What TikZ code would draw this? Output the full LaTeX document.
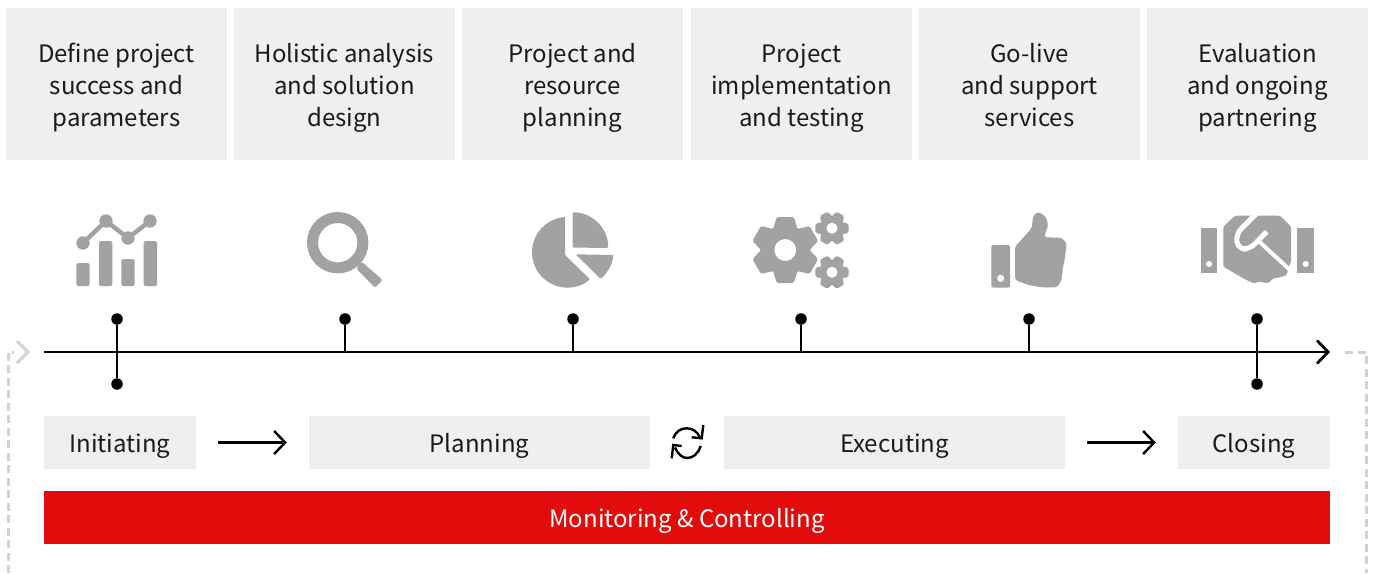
\documentclass[tikz,border=0pt]{standalone}
\usepackage{fontspec}
\setmainfont{Noto Sans CJK SC}
\usetikzlibrary{arrows.meta}
\definecolor{boxgray}{HTML}{EFEFEF}
\definecolor{icongray}{HTML}{A2A2A2}
\definecolor{dashgray}{HTML}{D2D2D2}
\definecolor{barred}{HTML}{E20C0C}
\definecolor{inkblack}{HTML}{1A1A1A}
\tikzset{
  toptext/.style={fill=boxgray, text=inkblack, inner sep=0pt, minimum width=221pt, minimum height=152pt, align=center, text height=90pt, text depth=6pt, font=\fontsize{24}{32}\selectfont},
  phase/.style={fill=boxgray, text=inkblack, inner sep=0pt, minimum height=53pt, text height=26pt, text depth=6.5pt, font=\fontsize{24}{32}\selectfont},
  dot/.style={circle, fill=black, inner sep=0pt, minimum size=11.5pt},
  stem/.style={black, line width=2.8pt},
  chevron/.style={-{Straight Barb[length=11pt,width=23pt]}},
  flow/.style={black, line width=2.4pt, chevron, shorten <=22pt, shorten >=22pt},
  dashline/.style={dashgray, line width=3pt, dash pattern=on 8pt off 4.5pt},
  icon/.style={fill=icongray, draw=none}
}
\newcommand{\gearicon}[4]{
  \begin{scope}[shift={(#1,#2)}, scale=#3, rotate=#4]
    \fill [icongray] (0,0) circle (0.76);
    \foreach \a in {0,60,...,300} {
      \fill [icongray, rounded corners=1.5pt, rotate=\a] (0.6,-0.38) -- (1,-0.26) -- (1,0.26) -- (0.6,0.38) -- cycle;
    }
    \fill [white] (0,0) circle (0.33);
  \end{scope}
}
\begin{document}
\begin{tikzpicture}[x=1pt, y=-1pt]
  \useasboundingbox (0,0) rectangle (1373,573);

  \node [toptext] (define) at (116.5,84) {Define project\\success and\\parameters};
  \node [toptext] (analysis) at (344.5,84) {Holistic analysis\\and solution\\design};
  \node [toptext] (resource) at (572.5,84) {Project and\\resource\\planning};
  \node [toptext] (testing) at (801.5,84) {Project\\implementation\\and testing};
  \node [toptext] (golive) at (1029.5,84) {Go-live\\and support\\services};
  \node [toptext] (partner) at (1257.5,84) {Evaluation\\and ongoing\\partnering};

  % chart
  \fill [icon, rounded corners=1.5pt] (76.3,263) rectangle (89.7,286);
  \fill [icon, rounded corners=1.5pt] (99,241) rectangle (112.3,286);
  \fill [icon, rounded corners=1.5pt] (121.3,259) rectangle (134.7,286);
  \fill [icon, rounded corners=1.5pt] (143.7,241) rectangle (157,286);
  \draw [icongray, line width=4.5pt] (83,243) -- (106,221) -- (128,238) -- (150,221);
  \fill [icongray] (83,243) circle (6.7) (106,221) circle (6.7) (128,238) circle (6.7) (150,221) circle (6.7);

  % magnifier
  \draw [icongray, line width=11pt] (337.7,242.7) circle (25.2);
  \fill [icon, rounded corners=2pt] (361.7,261.7) -- (382.7,280) -- (375,287.7) -- (356,268.3) -- cycle;

  % pie
  \fill [icon, rounded corners=1pt] (565,217.3) -- (565,255) -- (590,279.3) arc (50:265.6:35.3) -- cycle;
  \fill [icon, rounded corners=1pt] (572.7,212.3) arc (270:360:35.5) -- (572.7,247.7) -- cycle;
  \fill [icon, rounded corners=1pt] (575.7,254.3) -- (613.3,255) .. controls (612.5,264) and (608,272) .. (600.7,279) -- cycle;

  % gears
  \gearicon{785.3}{250}{33}{30}
  \gearicon{832}{228.3}{16.7}{0}
  \gearicon{832}{272.3}{16.7}{0}

  % thumb
  \fill [icon, rounded corners=2pt] (991.3,245) rectangle (1010,287.7);
  \fill [white] (1000.7,278.3) circle (3.5);
  \fill [icon, rounded corners=3pt] (1015,246.7) -- (1031.7,228.3) -- (1033.3,215) -- (1038.3,211.7) -- (1046,216.7) -- (1048.3,225) -- (1044,237.3) -- (1061.7,237.7) -- (1066.7,243.3) -- (1065.7,251.7) -- (1064.3,261.7) -- (1062.7,268.3) -- (1061.7,280) -- (1057.3,287.3) -- (1041.7,287.3) -- (1028.3,285) -- (1015,280) -- cycle;

  % handshake
  \fill [icon] (1200.7,227.7) -- (1217.3,227.7) -- (1217.3,272.7) -- (1200.7,272.7) -- cycle;
  \fill [white] (1209,264) circle (3);
  \fill [icon] (1297.3,227.7) -- (1314,227.7) -- (1314,272.7) -- (1297.3,272.7) -- cycle;
  \fill [white] (1305.7,264) circle (3);
  \fill [icon, rounded corners=1.5pt] (1223.3,226.7) -- (1235,215.7) -- (1280,215.7) -- (1291,226.7) -- (1291,261.7) -- (1288.3,268.3) -- (1286.7,275) -- (1280,277.3) -- (1273.3,278.3) -- (1268.3,283.3) -- (1260,281.7) -- (1253.3,283.3) -- (1243.3,278.3) -- (1223.3,266.7) -- cycle;
  \draw [white, line width=5pt, rounded corners=7pt] (1256,214) -- (1236,234) -- (1238,249) -- (1250,249) -- (1266.7,231.7);
  \draw [white, line width=4pt] (1260,242.3) -- (1291,271);

  \coordinate (linestart) at (44,352);
  \coordinate (lineend) at (1330,352);
  \draw [stem, chevron] (linestart) -- (lineend);

  \node [dot] (doneup) at (117,319) {};
  \node [dot] (donedown) at (117,384) {};
  \draw [stem] (doneup) -- (donedown);
  \node [dot] (dtwo) at (345,319) {};
  \draw [stem] (dtwo) -- (345,352);
  \node [dot] (dthree) at (573,319) {};
  \draw [stem] (dthree) -- (573,352);
  \node [dot] (dfour) at (801,319) {};
  \draw [stem] (dfour) -- (801,352);
  \node [dot] (dfive) at (1029,319) {};
  \draw [stem] (dfive) -- (1029,352);
  \node [dot] (dsixup) at (1257,319) {};
  \node [dot] (dsixdown) at (1257,384) {};
  \draw [stem] (dsixup) -- (dsixdown);

  \coordinate (leftbottom) at (8,573);
  \coordinate (leftcorner) at (8,352);
  \coordinate (leftend) at (14,352);
  \draw [dashline] (leftbottom) -- (leftcorner) -- (leftend);
  \draw [dashgray, line width=3pt] (17,341) -- (28,352) -- (17,363);
  \coordinate (rightstart) at (1345,352);
  \coordinate (rightcorner) at (1366,352);
  \coordinate (rightbottom) at (1366,573);
  \draw [dashline] (rightstart) -- (rightcorner) -- (rightbottom);

  \node [phase, minimum width=152pt] (init) at (120,442.5) {Initiating};
  \node [phase, minimum width=341pt] (plan) at (479.5,442.5) {Planning};
  \node [phase, minimum width=341pt] (exec) at (894.5,442.5) {Executing};
  \node [phase, minimum width=152pt] (close) at (1254,442.5) {Closing};
  \draw [flow] (init) -- (plan);
  \draw [flow] (exec) -- (close);

  \draw [black, line width=2.4pt] (673.3,438.3) .. controls (676,431) and (681,428.3) .. (686.7,428.3) .. controls (692,428.3) and (697,431) .. (700,437.5);
  \draw [black, line width=2.4pt] (703.3,425) -- (701.7,438.3) -- (691.7,437.3);
  \draw [black, line width=2.4pt] (675,447.5) .. controls (678,454) and (682,458) .. (687,458) .. controls (693,458) and (698,454) .. (700.7,446);
  \draw [black, line width=2.4pt] (671.7,458.3) -- (673.3,445) -- (681.7,446);

  \node [fill=barred, text=white, inner sep=0pt, minimum width=1286pt, minimum height=53pt, text height=26pt, text depth=6.5pt, font=\fontsize{24}{32}\selectfont] (monitor) at (687,517.5) {Monitoring \& Controlling};
\end{tikzpicture}
\end{document}
